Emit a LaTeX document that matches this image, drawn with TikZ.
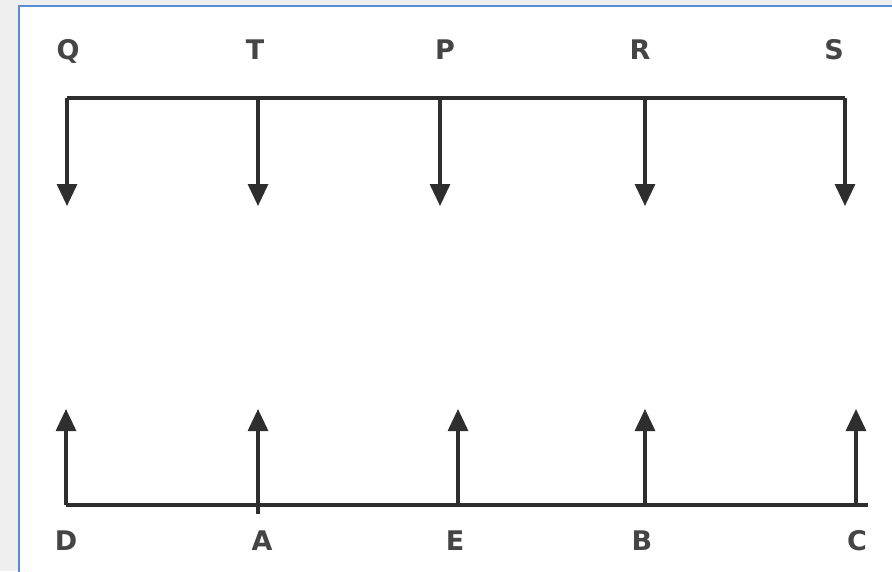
\documentclass[tikz,border=0pt]{standalone}
\usepackage{fontspec}
\setmainfont{DejaVu Sans}
\usetikzlibrary{arrows.meta}
\definecolor{bgray}{HTML}{EFEFEF}
\definecolor{frameblue}{HTML}{5B8BD6}
\definecolor{ink}{HTML}{2E2E2E}
\definecolor{lbl}{HTML}{454545}
\begin{document}
\begin{tikzpicture}[x=1pt,y=-1pt,
  bar/.style={draw=ink,line width=3.2pt},
  arr/.style={draw=ink,line width=3.2pt,-{Triangle[width=20pt,length=22pt]}},
  lab/.style={text=lbl,font=\bfseries\fontsize{27}{27}\selectfont,inner sep=0pt,anchor=center}]
\useasboundingbox (0,0) rectangle (892,571);
\fill[bgray] (0,0) rectangle (892,571);
\draw[frameblue,line width=2pt,fill=white] (19,6) rectangle (900,580);
% top labels
\node[lab] (q) at (68,51) {Q};
\node[lab] (t) at (255,50) {T};
\node[lab] (p) at (445,50) {P};
\node[lab] (r) at (640,50) {R};
\node[lab] (s) at (834,50) {S};
% bottom labels
\node[lab] (d) at (66,541) {D};
\node[lab] (a) at (262,541) {A};
\node[lab] (e) at (455,541) {E};
\node[lab] (b) at (642,541) {B};
\node[lab] (c) at (857,541) {C};
% top coordinates
\coordinate (q1) at (67,98); \coordinate (q2) at (67,206);
\coordinate (t1) at (258,98); \coordinate (t2) at (258,206);
\coordinate (p1) at (440,98); \coordinate (p2) at (440,206);
\coordinate (r1) at (645,98); \coordinate (r2) at (645,206);
\coordinate (s1) at (845,98); \coordinate (s2) at (845,206);
\draw[bar,line join=round] (q2|-q1) -- (q1) -- (s1);
\foreach \n in {q,t,p,r,s} \draw[arr] (\n1) -- (\n2);
% bottom coordinates
\coordinate (d1) at (66,505); \coordinate (d2) at (66,409);
\coordinate (a1) at (258,514); \coordinate (a2) at (258,409);
\coordinate (e1) at (458,505); \coordinate (e2) at (458,409);
\coordinate (b1) at (645,505); \coordinate (b2) at (645,409);
\coordinate (c1) at (856,505); \coordinate (c2) at (856,409);
\coordinate (bend) at (868,505);
\draw[bar] (d1) -- (bend);
\foreach \n in {d,a,e,b,c} \draw[arr] (\n1) -- (\n2);
\end{tikzpicture}
\end{document}
